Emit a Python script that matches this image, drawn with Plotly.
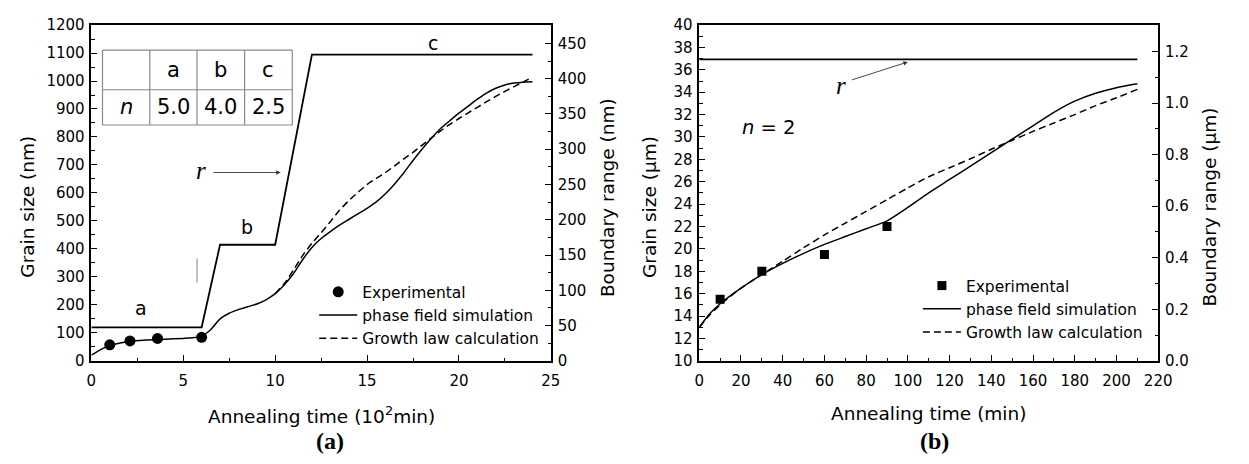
import plotly.graph_objects as go

W, H = 1249, 464
FONT = "DejaVu Sans"
SERIF = "Liberation Serif"

# ---------------- Panel (a) data ----------------
a_exp_x = [1.0, 2.1, 3.6, 6.0]
a_exp_y = [57, 71, 80, 84]

a_sim_x = [0, 0.5, 1, 1.5, 2, 3, 4, 5, 5.5, 6, 6.5, 7, 7.5, 8, 8.5, 9, 9.5, 10,
           10.5, 11, 11.5, 12, 12.5, 13, 13.5, 14, 14.5, 15, 15.5, 16, 16.5, 17,
           17.5, 18, 18.5, 19, 19.5, 20, 20.5, 21, 21.5, 22, 22.5, 23, 23.5, 24]
a_sim_y = [20, 40, 55, 63, 69, 74, 77, 80, 82, 88, 112, 150, 170, 183, 193, 203, 218, 240,
           272, 312, 362, 405, 437, 462, 485, 505, 525, 545, 568, 597, 632, 672,
           716, 757, 795, 830, 858, 885, 910, 935, 957, 974, 986, 993, 996, 997]

a_gl_x = [10, 10.5, 11, 11.5, 12, 12.5, 13, 13.5, 14, 14.5, 15, 15.5, 16, 16.5, 17,
          17.5, 18, 18.5, 19, 19.5, 20, 20.5, 21, 21.5, 22, 22.5, 23, 23.5, 24]
a_gl_y = [240, 276, 325, 377, 420, 458, 497, 538, 572, 602, 630, 652, 673, 697, 722,
          745, 771, 797, 822, 845, 866, 886, 906, 926, 945, 963, 980, 997, 1013]

a_r_x = [0, 6, 7, 10, 12, 24]
a_r_y = [47.5, 47.5, 164.5, 164.5, 434, 434]

a_table_cols = ["a", "b", "c"]
a_table_n = ["5.0", "4.0", "2.5"]

# ---------------- Panel (b) data ----------------
b_exp_x = [10, 30, 60, 90]
b_exp_y = [15.5, 18.0, 19.5, 22.0]

b_sim_x = [0, 5, 10, 20, 30, 40, 50, 60, 70, 80, 90, 100, 110, 120, 130, 140, 150,
           160, 170, 180, 190, 200, 210]
b_sim_y = [13.0, 14.2, 15.1, 16.5, 17.7, 18.7, 19.6, 20.4, 21.1, 21.8, 22.5, 23.7, 25.0,
           26.2, 27.4, 28.6, 29.8, 31.0, 32.2, 33.2, 33.9, 34.4, 34.75]
b_gl_x = b_sim_x
b_gl_y = [13.0, 14.1, 15.0, 16.5, 17.7, 18.9, 20.1, 21.25, 22.3, 23.35, 24.4, 25.45, 26.45,
          27.25, 28.05, 28.9, 29.7, 30.5, 31.25, 32.0, 32.8, 33.5, 34.25]

b_r_x = [0, 210]
b_r_y = [1.17, 1.17]

# ---------------- figure ----------------
fig = go.Figure()
LINE = dict(color="black", width=1.5)
DASH = dict(color="black", width=1.5, dash="7px,4px")

# panel a
fig.add_trace(go.Scatter(x=a_r_x, y=a_r_y, xaxis="x", yaxis="y3", mode="lines",
                         line=dict(color="black", width=1.8), showlegend=False))
fig.add_trace(go.Scatter(x=a_exp_x, y=a_exp_y, xaxis="x", yaxis="y", mode="markers",
                         marker=dict(symbol="circle", size=11, color="black"),
                         name="Experimental", legend="legend"))
fig.add_trace(go.Scatter(x=a_sim_x, y=a_sim_y, xaxis="x", yaxis="y", mode="lines",
                         line=dict(shape="spline", smoothing=0.6, **LINE),
                         name="phase field simulation", legend="legend"))
fig.add_trace(go.Scatter(x=a_gl_x, y=a_gl_y, xaxis="x", yaxis="y", mode="lines",
                         line=dict(shape="spline", smoothing=0.6, **DASH),
                         name="Growth law calculation", legend="legend"))

# panel b
fig.add_trace(go.Scatter(x=b_r_x, y=b_r_y, xaxis="x2", yaxis="y4", mode="lines",
                         line=dict(color="black", width=1.8), showlegend=False))
fig.add_trace(go.Scatter(x=b_exp_x, y=b_exp_y, xaxis="x2", yaxis="y2", mode="markers",
                         marker=dict(symbol="square", size=9, color="black"),
                         name="Experimental", legend="legend2"))
fig.add_trace(go.Scatter(x=b_sim_x, y=b_sim_y, xaxis="x2", yaxis="y2", mode="lines",
                         line=dict(shape="spline", smoothing=0.6, **LINE),
                         name="phase field simulation", legend="legend2"))
fig.add_trace(go.Scatter(x=b_gl_x, y=b_gl_y, xaxis="x2", yaxis="y2", mode="lines",
                         line=dict(shape="spline", smoothing=0.6, **DASH),
                         name="Growth law calculation", legend="legend2"))


def px(x):
    return x / W


def py(y):
    return 1 - y / H


ydom = [py(366), py(16.7)]
common = dict(showline=True, linecolor="black", linewidth=1.6, ticks="inside", ticklen=6,
              tickwidth=1.4, tickcolor="black", showgrid=False, zeroline=False,
              tickfont=dict(family=FONT, size=15, color="black"))


def minor(d):
    return dict(dtick=d, ticks="inside", ticklen=3.5, tickwidth=1.2, tickcolor="black", showgrid=False)


fig.update_layout(
    width=W, height=H, margin=dict(l=0, r=0, t=0, b=0),
    paper_bgcolor="white", plot_bgcolor="white",
    font=dict(family=FONT, color="black"),
    xaxis=dict(domain=[px(87.7), px(554.3)], range=[0, 25], dtick=5, minor=minor(2.5),
               anchor="y", mirror=True, ticklabelstandoff=5, **common),
    yaxis=dict(domain=ydom, range=[0, 1200], dtick=100, minor=minor(50), anchor="x",
               ticklabelstandoff=2, **common),
    yaxis3=dict(domain=ydom, range=[0, 476], dtick=50, minor=minor(25), anchor="x",
                overlaying="y", side="right", ticklabelstandoff=2, **common),
    xaxis2=dict(domain=[px(705), px(1171)], range=[0, 220], dtick=20, minor=minor(10),
                anchor="y2", mirror=True, ticklabelstandoff=5, **common),
    yaxis2=dict(domain=ydom, range=[10, 40], dtick=2, minor=minor(1), anchor="x2",
                ticklabelstandoff=2, **common),
    yaxis4=dict(domain=ydom, range=[0, 1.303], dtick=0.2, tickformat=".1f", minor=minor(0.1),
                anchor="x2", overlaying="y2", side="right", ticklabelstandoff=2, **common),
    legend=dict(x=px(314), y=py(277), xanchor="left", yanchor="top", bgcolor="rgba(0,0,0,0)",
                font=dict(family=FONT, size=15.5, color="black"), itemwidth=38,
                tracegroupgap=0),
    legend2=dict(x=px(927), y=py(270.5), xanchor="left", yanchor="top", bgcolor="rgba(0,0,0,0)",
                 font=dict(family=FONT, size=15.5, color="black"), itemwidth=38,
                 tracegroupgap=0),
)

ann = []


def pann(text, x, y, size, family=FONT, **kw):
    d = dict(text=text, x=px(x), y=py(y), xref="paper", yref="paper", showarrow=False,
             xanchor="center", yanchor="middle",
             font=dict(family=family, size=size, color="black"))
    d.update(kw)
    return d


# axis titles
ann.append(pann("Annealing time (10<sup>2</sup>min)", 321, 422, 18.5))
ann.append(pann("Annealing time (min)", 938, 421, 18.5))
ann.append(pann("Grain size (nm)", 22, 206, 18.5, textangle=-90))
ann.append(pann("Boundary range (nm)", 612, 196, 18.5, textangle=-90))
ann.append(pann("Grain size (\u03bcm)", 654, 206, 18.5, textangle=-90))
ann.append(pann("Boundary range (\u03bcm)", 1223, 206, 18.5, textangle=-90))
ann.append(pann("<b>(a)</b>", 330, 449, 24, family=SERIF))
ann.append(pann("<b>(b)</b>", 944, 449, 24, family=SERIF))

# segment labels in panel a
for t, xx, yy in [("a", 2.7, 189), ("b", 8.48, 477), ("c", 18.6, 1137)]:
    ann.append(dict(text=t, x=xx, y=yy, xref="x", yref="y", showarrow=False,
                    font=dict(family=FONT, size=19, color="black")))

# r labels and arrows
ann.append(dict(text="<i>r</i>", x=5.97, y=680, xref="x", yref="y", showarrow=False,
                font=dict(family=SERIF, size=25, color="black")))
ann.append(dict(text="", x=10.3, y=673, ax=6.56, ay=673, xref="x", yref="y", axref="x",
                ayref="y", showarrow=True, arrowhead=2, arrowsize=1, arrowwidth=0.9,
                arrowcolor="#333333"))
ann.append(dict(text="<i>r</i>", x=67.8, y=34.57, xref="x2", yref="y2", showarrow=False,
                font=dict(family=SERIF, size=25, color="black")))
ann.append(dict(text="", x=100, y=36.7, ax=72.5, ay=35.06, xref="x2", yref="y2", axref="x2",
                ayref="y2", showarrow=True, arrowhead=2, arrowsize=1, arrowwidth=0.9,
                arrowcolor="#333333"))
ann.append(pann("<i>n</i> = 2", 776, 123, 19.5))

# table
tx = [99, 147, 195, 243.3, 291.7]
ty = [42.7, 84, 120.7]
shapes = []
for xv in tx:
    shapes.append(dict(type="line", xref="paper", yref="paper", x0=px(xv), x1=px(xv),
                       y0=py(ty[0]), y1=py(ty[-1]), line=dict(color="#8a8a8a", width=1.2)))
for yv in ty:
    shapes.append(dict(type="line", xref="paper", yref="paper", x0=px(tx[0]), x1=px(tx[-1]),
                       y0=py(yv), y1=py(yv), line=dict(color="#8a8a8a", width=1.2)))
ann.append(pann("<i>n</i>", (tx[0] + tx[1]) / 2, (ty[1] + ty[2]) / 2, 21))
for i in range(3):
    cx = (tx[i + 1] + tx[i + 2]) / 2
    ann.append(pann(a_table_cols[i], cx, (ty[0] + ty[1]) / 2, 21))
    ann.append(pann(a_table_n[i], cx, (ty[1] + ty[2]) / 2, 21))

# small grey stroke in panel a
shapes.append(dict(type="line", xref="x", yref="y", x0=5.75, x1=5.75, y0=280, y1=366,
                   line=dict(color="#999999", width=1.2)))

fig.update_layout(annotations=ann, shapes=shapes)
fig.write_html("out.html")
